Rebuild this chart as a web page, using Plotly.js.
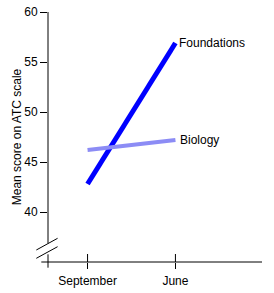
<!DOCTYPE html>
<html>
<head>
<meta charset="utf-8">
<script src="https://cdn.plot.ly/plotly-3.0.1.min.js"></script>
<style>html,body{margin:0;padding:0;background:#fff;}#chart{width:274px;height:293px;}</style>
</head>
<body>
<div id="chart"></div>
<script>
var periods = ['September', 'June'];
var periodPos = [1, 2];
var foundations = [42.8, 56.9];
var biology = [46.2, 47.2];
var yTicks = [40, 45, 50, 55, 60];

var font = {family: 'Liberation Sans, Arial, sans-serif', size: 12, color: '#000'};

var traces = [
  {x: periodPos, y: foundations, mode: 'lines', line: {color: '#0000ff', width: 5}, hoverinfo: 'none'},
  {x: periodPos, y: biology, mode: 'lines', line: {color: '#8c8cf5', width: 4}, hoverinfo: 'none'}
];

var ln = {color: '#000', width: 1};
var shapes = [
  // y axis line with break
  {type: 'line', xref: 'paper', yref: 'paper', x0: 0, x1: 0, y0: 1, y1: 0.0748, line: ln},
  {type: 'line', xref: 'paper', yref: 'paper', x0: 0, x1: 0, y0: 0.0308, y1: -0.0228, line: ln},
  // break slashes
  {type: 'line', xref: 'paper', yref: 'paper', x0: -0.0546, x1: 0.0448, y0: 0.048, y1: 0.0948, line: ln},
  {type: 'line', xref: 'paper', yref: 'paper', x0: -0.0546, x1: 0.0448, y0: 0.0148, y1: 0.0612, line: ln},
  // x axis line
  {type: 'line', xref: 'paper', yref: 'paper', x0: -0.0313, x1: 1, y0: 0, y1: 0, line: ln}
];
periodPos.forEach(function(p) {
  shapes.push({type: 'line', xref: 'x', yref: 'paper', x0: p, x1: p, y0: 0, y1: 0.032, line: ln});
});

var annotations = [
  {x: periodPos[1], y: foundations[1], text: 'Foundations', showarrow: false, xanchor: 'left', yanchor: 'middle', xshift: 2, font: font},
  {x: periodPos[1], y: biology[1], text: 'Biology', showarrow: false, xanchor: 'left', yanchor: 'middle', xshift: 3, font: font}
];

var layout = {
  width: 274, height: 293,
  margin: {l: 48, r: 12, t: 12, b: 31, pad: 0},
  paper_bgcolor: '#fff', plot_bgcolor: '#fff',
  showlegend: false,
  font: font,
  xaxis: {
    range: [0.55, 2.985], tickvals: periodPos, ticktext: periods,
    showgrid: false, zeroline: false, showline: false,
    ticks: 'outside', ticklen: 6, tickcolor: '#000', tickwidth: 1,
    ticklabelstandoff: 2,
    tickfont: font, fixedrange: true
  },
  yaxis: {
    range: [35, 60], tickvals: yTicks,
    showgrid: false, zeroline: false, showline: false,
    ticks: 'outside', ticklen: 7, tickcolor: '#000', tickwidth: 1,
    tickfont: font, fixedrange: true,
    title: {text: 'Mean score on ATC scale', font: font, standoff: 0}
  },
  shapes: shapes,
  annotations: annotations
};

Plotly.newPlot('chart', traces, layout, {staticPlot: true, displayModeBar: false});
</script>
</body>
</html>
